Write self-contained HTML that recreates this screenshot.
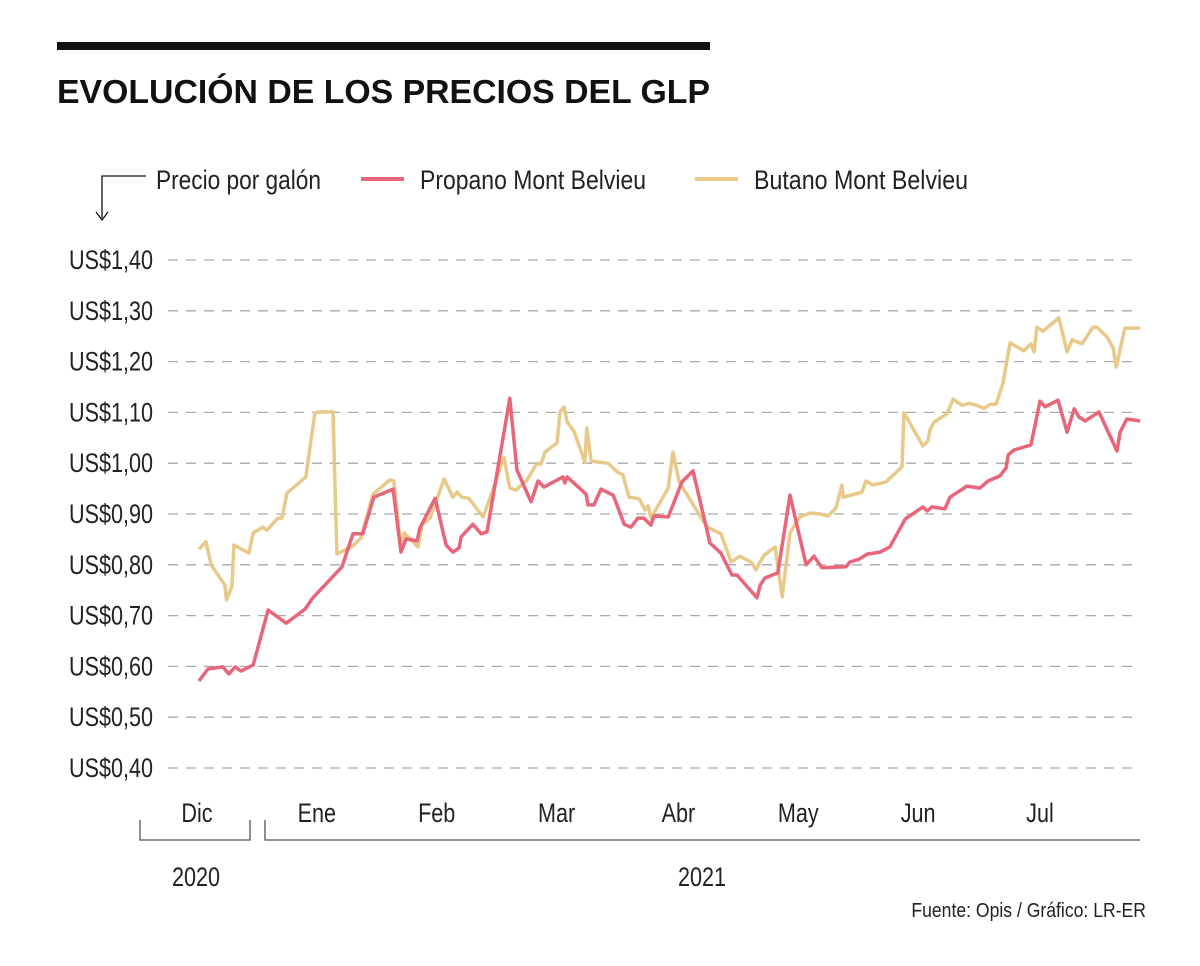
<!DOCTYPE html>
<html><head><meta charset="utf-8"><style>
html,body{margin:0;padding:0;background:#fff;}
svg{display:block;font-family:"Liberation Sans",sans-serif;}
</style></head><body>
<svg id="chart" width="1200" height="966" viewBox="0 0 1200 966">
<rect x="57" y="42" width="653" height="8" fill="#111"/>
<text x="57" y="103" font-size="33" font-weight="bold" fill="#111" textLength="653" lengthAdjust="spacingAndGlyphs">EVOLUCIÓN DE LOS PRECIOS DEL GLP</text>
<g>
<path d="M146,176 H102 V218" fill="none" stroke="#111" stroke-width="1.3"/>
<path d="M96,212 L102,220 L108,212" fill="none" stroke="#111" stroke-width="1.3"/>
<text x="156" y="189" font-size="27" fill="#222" textLength="165" lengthAdjust="spacingAndGlyphs">Precio por galón</text>
<line x1="361" y1="179" x2="404" y2="179" stroke="#e8657a" stroke-width="4"/>
<text x="420" y="189" font-size="27" fill="#222" textLength="226" lengthAdjust="spacingAndGlyphs">Propano Mont Belvieu</text>
<line x1="695" y1="179" x2="738" y2="179" stroke="#e8c98a" stroke-width="4"/>
<text x="754" y="189" font-size="27" fill="#222" textLength="214" lengthAdjust="spacingAndGlyphs">Butano Mont Belvieu</text>
</g>
<g id="grid"></g>
<g id="ylabels"></g>
<g id="series"></g>
<g>
<path d="M140,820 V840 H250 V820" fill="none" stroke="#555" stroke-width="1.3"/>
<path d="M265,820 V840 H1140" fill="none" stroke="#555" stroke-width="1.3"/>
</g>
<g id="xlabels"></g>
<text x="196" y="886" font-size="27" fill="#222" text-anchor="middle" transform="translate(196 0) scale(0.8 1) translate(-196 0)">2020</text>
<text x="702" y="886" font-size="27" fill="#222" text-anchor="middle" transform="translate(702 0) scale(0.8 1) translate(-702 0)">2021</text>
<text x="1146" y="917" font-size="20" fill="#222" text-anchor="end" transform="translate(1146 0) scale(0.88 1) translate(-1146 0)">Fuente: Opis  / Gráfico: LR-ER</text>
</svg>
<script>
const yTicks=[40,50,60,70,80,90,100,110,120,130,140];
const yTickLabels=["US$0,40","US$0,50","US$0,60","US$0,70","US$0,80","US$0,90","US$1,00","US$1,10","US$1,20","US$1,30","US$1,40"];
const months=["Dic","Ene","Feb","Mar","Abr","May","Jun","Jul"];
const monthLabelDays=[14.5,45,75.5,106,137,167.5,198,229];
const propanoDays=[15,17.3,21.1,22.6,24.2,25.7,28.8,32.6,37.2,42,44,51.4,54.2,56.7,59.5,64.4,66.4,67.7,70.5,71.2,75.1,77.9,79.6,81.2,81.7,84.7,86.8,88.3,94.1,95.9,99.5,101.3,102.8,107.6,108.1,108.7,113.5,114,115.5,117.3,120.4,123.2,124.9,126.7,128.2,130,130.8,134.4,137.9,140.7,145,147.8,150.6,151.9,157,157.8,159,162.3,165.4,169.5,171.5,173.5,179.6,180.7,183,185,188.3,190.8,194.7,199.2,200.3,201.5,204.8,206.1,210.4,213.7,215.8,218.8,220.4,220.9,222.4,226.7,229,230.3,233.6,235.9,237.7,238.9,240.5,244,248.6,249.4,251.1,254.5];
const propanoValues=[57.1,59.5,59.9,58.5,59.9,59.1,60.3,71.1,68.5,71.3,73.5,79.6,86.1,86.1,93.3,94.9,82.5,85.1,84.7,87.2,93.1,83.9,82.5,83.3,85.5,88,86.1,86.5,112.8,98.7,92.4,96.5,95.3,97.3,96.1,97.3,93.9,91.8,91.8,94.9,93.7,88,87.4,89.2,89.2,87.8,89.6,89.4,96.3,98.5,84.3,82.3,78,78,73.5,76,77.4,78.4,93.7,80,81.7,79.4,79.6,80.6,81.1,82.1,82.5,83.5,89,91.4,90.6,91.4,91,93.3,95.5,95.1,96.5,97.5,99.1,101.6,102.6,103.6,112.2,111.1,112.4,106.1,110.7,109.1,108.3,110.1,102.4,106.1,108.7,108.3];
const butanoDays=[15,16.8,18.1,21.6,22,23.4,23.9,27.7,28.8,31.3,32.3,35.1,36.1,37.4,42.2,44.5,45.8,49.1,50.1,54.2,56.2,59.3,63.6,64.6,66.4,67.2,70.7,71.8,73.8,77.4,79.6,80.7,81.9,83.7,87.3,89.6,92.6,94.1,95.7,98.5,101,102,103.1,106.1,106.9,107.9,108.7,110.4,113.2,113.7,114.8,119.1,121.4,122.9,124.4,127,128.5,129.3,130,134.4,135.6,137.2,143,144.5,147.8,150.4,152.7,155.7,156.7,158.8,161.6,163.4,165.4,167.9,170.5,173,175.1,177.1,178.6,178.9,183.7,184.7,186.5,189.8,193.9,194.4,199.2,200.5,201,202,205.3,206.9,209.2,211.2,213.5,214.8,216.3,217.8,219.6,221.4,224.9,226.7,227.5,228.2,229.8,233.8,235.9,237.2,239.7,242.5,243.5,246.1,247.6,248.4,250.6,254.5];
const butanoValues=[83.1,84.5,80,76,73.1,75.8,83.9,82.3,86.3,87.4,86.8,89.2,89.2,94.1,97.3,109.9,110.1,110.1,82.1,83.7,85.3,93.9,96.7,96.5,82.9,86.3,83.5,88,89.2,96.9,93.3,94.3,93.3,93.1,89.4,94.3,101.2,95.1,94.7,96.7,100,99.8,102.2,104,110.1,111.1,108.1,106.3,100.2,106.9,100.4,100,98.3,97.7,93.3,93,90.8,91.6,89.2,95.1,102.2,96.3,89,87.4,86.1,80.6,81.7,80.4,79,81.9,83.5,73.7,86.3,89.4,90.2,90,89.6,91.2,95.7,93.3,94.3,96.5,95.7,96.3,99.3,109.9,103.4,104.4,106.5,108.1,109.7,112.6,111.4,111.8,111.2,110.8,111.6,111.6,115.8,123.7,122.1,123.5,121.9,126.8,126,128.6,121.9,124.3,123.5,126.8,126.8,124.8,122.7,118.9,126.6,126.6];

const NS="http://www.w3.org/2000/svg";
function xs(d){return 140+d*3.93;}
function ys(v){return 768-(v-40)*5.08;}
function mk(tag,attrs,parent){const e=document.createElementNS(NS,tag);for(const k in attrs)e.setAttribute(k,attrs[k]);parent.appendChild(e);return e;}
const grid=document.getElementById('grid'),yl=document.getElementById('ylabels'),ser=document.getElementById('series'),xl=document.getElementById('xlabels');
yTicks.forEach((t,i)=>{
  const l=mk('line',{x1:168,x2:1140,y1:ys(t),y2:ys(t),stroke:'#aaa','stroke-width':1.3,'stroke-dasharray':'10 8'},grid);
  
  
  const tx=mk('text',{x:153,y:ys(t)+9,'font-size':27,fill:'#222','text-anchor':'end',transform:`translate(153 0) scale(0.8 1) translate(-153 0)`},yl);
  tx.textContent=yTickLabels[i];
  
  
});
months.forEach((m,i)=>{
  const x=xs(monthLabelDays[i]);
  const tx=mk('text',{x:x,y:822,'font-size':27,fill:'#222','text-anchor':'middle',transform:`translate(${x} 0) scale(0.8 1) translate(${-x} 0)`},xl);
  tx.textContent=m;
  
  
});
function line(days,vals,color,name){
  const d=days.map((dd,i)=>(i?'L':'M')+xs(dd).toFixed(1)+','+ys(vals[i]).toFixed(1)).join(' ');
  const p=mk('path',{d:d,fill:'none',stroke:color,'stroke-width':3.5,'stroke-linejoin':'round'},ser);
  
  
}
line(butanoDays,butanoValues,'#e8c98a','butano-line');
line(propanoDays,propanoValues,'#e8657a','propano-line');
</script>
</body></html>
